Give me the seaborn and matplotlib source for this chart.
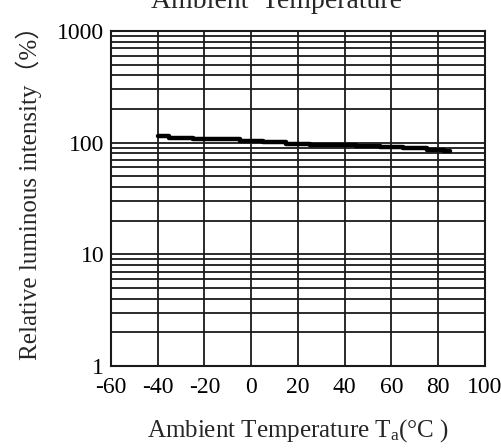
import matplotlib
matplotlib.use("Agg")
import matplotlib.pyplot as plt
import seaborn as sns
import pandas as pd
from matplotlib.ticker import FixedLocator, LogLocator, NullFormatter

temps = [-40, -30, -20, -10, 0, 10, 20, 30, 40, 50, 60, 70, 80, 85]
intensity = [115, 110, 108, 107, 104, 101, 98, 96, 95, 94, 92, 89, 86, 85]
x_ticks = [-60, -40, -20, 0, 20, 40, 60, 80, 100]
y_ticks = [1, 10, 100, 1000]
y_tick_labels = ["1", "10", "100", "1000"]

sns.set_style("white")
plt.rcParams['font.family'] = ['Liberation Serif', 'Noto Sans CJK SC', 'DejaVu Sans']
plt.rcParams['mathtext.fontset'] = 'custom'
plt.rcParams['mathtext.rm'] = 'Liberation Serif'
plt.rcParams['mathtext.it'] = 'Liberation Serif'

df = pd.DataFrame({"T": temps, "I": intensity})

fig = plt.figure(figsize=(5.02, 4.48), dpi=100)
ax = fig.add_axes([111/502, 1-366/448, 374/502, 335/448])
sns.lineplot(data=df, x="T", y="I", ax=ax, color="black", lw=3.2,
             drawstyle="steps-mid")
ax.set_yscale("log")
ax.set_xlim(-60, 100)
ax.set_ylim(1, 1000)
ax.xaxis.set_major_locator(FixedLocator(x_ticks))
ax.set_xticklabels([str(v) for v in x_ticks])
ax.set_yticks(y_ticks)
ax.set_yticklabels(y_tick_labels)
ax.yaxis.set_minor_locator(LogLocator(base=10, subs=range(2, 10)))
ax.yaxis.set_minor_formatter(NullFormatter())
ax.grid(True, which="both", axis="y", color="#1a1a1a", lw=1.3)
ax.grid(True, which="major", axis="x", color="#1a1a1a", lw=1.3)
ax.tick_params(axis="both", which="both", length=0, labelsize=17, colors="black")
ax.tick_params(axis="y", pad=5)
ax.tick_params(axis="x", pad=8)
for s in ax.spines.values():
    s.set_color("#1a1a1a")
    s.set_linewidth(1.5)
ax.set_xlabel("Ambient Temperature T$_\\mathrm{a}$(°C )", fontsize=18, labelpad=14)
ax.set_ylabel("Relative luminous intensity（%）", fontsize=18)
ax.yaxis.set_label_coords(-0.184, 0.534)
fig.text(277/502, 1-8/448, "Ambient  Temperature", fontsize=20, ha="center", va="baseline")
fig.savefig("out.png", dpi=100)
